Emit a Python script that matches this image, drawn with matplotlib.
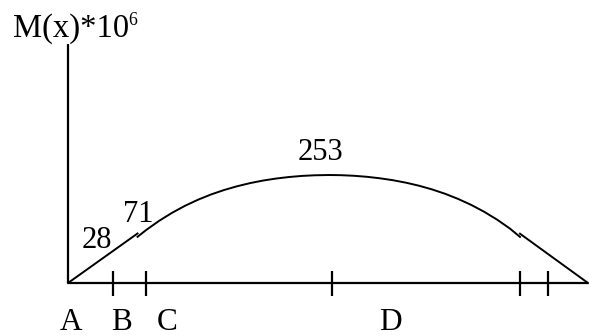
import matplotlib
matplotlib.use("Agg")
import matplotlib.pyplot as plt

# Beam positions (span units) and bending moment values M(x)*10^6
beam_end = 10.0
tick_positions = [0.871, 1.494, 5.077, 8.692, 9.231]
point_labels = ["A", "B", "C", "D"]
label_x = [0.054, 1.038, 1.904, 6.192]

# Left linear segment (A to the first jump)
left_x = [0.0, 1.337]
left_m = [0.0, 116.0]

# Curved middle segment between the jumps
mid_x = [1.337, 1.5, 1.75, 2.0, 2.25, 2.5, 2.75, 3.0, 3.25, 3.5, 3.75,
         4.0, 4.25, 4.5, 4.75, 5.019, 5.25, 5.5, 5.75, 6.0, 6.25, 6.5,
         6.75, 7.0, 7.25, 7.5, 7.75, 8.0, 8.25, 8.5, 8.692]
mid_m = [108.2, 123.9, 145.5, 164.4, 180.9, 195.1, 207.4, 217.8, 226.6,
         234.0, 240.0, 244.7, 248.3, 250.9, 252.4, 253.0, 252.6, 251.2,
         248.8, 245.3, 240.8, 235.0, 227.9, 219.3, 209.1, 197.1, 183.2,
         167.1, 148.6, 127.4, 108.0]

# Right linear segment (second jump to the support)
right_x = [8.692, 10.0]
right_m = [115.5, 0.0]

value_labels = ["28", "71", "253"]
value_label_x = [0.558, 1.346, 4.856]
value_label_m = [82.0, 142.9, 288.1]

serif = ["Liberation Serif", "DejaVu Serif"]

fig = plt.figure(figsize=(5.89, 3.35), dpi=100)
ax = fig.add_axes([0, 0, 1, 1])
ax.set_xlim(-1.3077, 10.019)
ax.set_ylim(-121.8, 663.0)
ax.axis("off")

axis_lw = 1.6
# Axes lines
ax.plot([0, 0], [0, 560], color="black", lw=axis_lw, solid_capstyle="butt")
ax.plot([0, beam_end], [0, 0], color="black", lw=axis_lw, solid_capstyle="butt")
ax.vlines(tick_positions, -30.4, 28.1, colors="black", lw=axis_lw)

# Moment diagram
curve_lw = 1.4
ax.plot(left_x, left_m, color="black", lw=curve_lw)
ax.plot(mid_x, mid_m, color="black", lw=curve_lw, solid_joinstyle="round")
ax.plot(right_x, right_m, color="black", lw=curve_lw)

for t, x in zip(point_labels, label_x):
    ax.text(x, -110.1, t, ha="center", va="baseline", fontsize=22.5, family=serif)

for t, x, m in zip(value_labels, value_label_x, value_label_m):
    ax.text(x, m, t, ha="center", va="baseline", fontsize=22, family=serif)

ax.text(-1.058, 576.3, "M(x)*10", ha="left", va="baseline", fontsize=23.5, family=serif)
ax.text(1.163, 604.4, "6", ha="left", va="baseline", fontsize=12.8, family=serif)

fig.savefig("out.png", dpi=100, facecolor="white")
